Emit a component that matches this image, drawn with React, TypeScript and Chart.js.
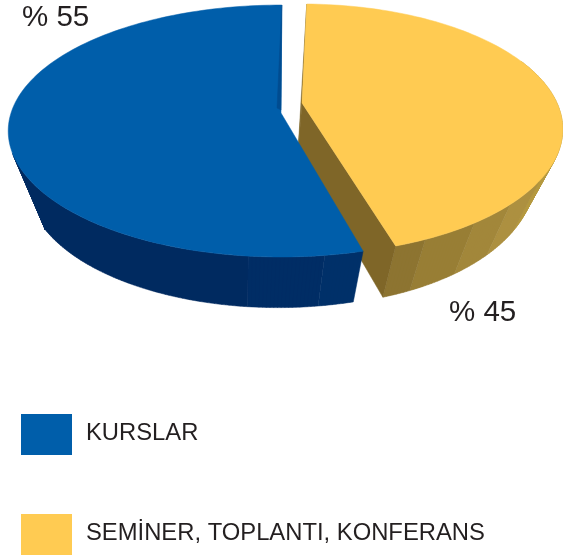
import React, { useEffect, useRef } from "react";
import { Chart, registerables } from "chart.js";

Chart.register(...registerables);

const categories = ["KURSLAR", "SEMİNER, TOPLANTI, KONFERANS"];
const shares = [55, 45];
const sliceColors = ["#005EAA", "#FFCB52"];

type Disk = { x: number; y: number; A: number; B: number; k: number };
type SliceView = {
  top: Disk;
  bottom: Disk;
  trimStart: number;
  trimEnd: number;
  wallStops: number[];
  wallColors: string[];
  bottomLimit: number;
  cutColor: string;
  label: { x: number; y: number };
};

const views: SliceView[] = [
  {
    top: { x: 281, y: 113, A: 270, B: 123.4, k: 0.143 },
    bottom: { x: 278, y: 167, A: 247.5, B: 120.5, k: 0.143 },
    trimStart: 1.8,
    trimEnd: -0.8,
    wallStops: [252, 186, 172, 164.8],
    wallColors: ["#002A60", "#002D65", "#003069"],
    bottomLimit: 241,
    cutColor: "#004C90",
    label: { x: 22, y: 26 },
  },
  {
    top: { x: 302, y: 103, A: 255, B: 119.7, k: 0.209 },
    bottom: { x: 298, y: 152, A: 231, B: 121.6, k: 0.209 },
    trimStart: 0.3,
    trimEnd: -0.1,
    wallStops: [68, 112, 125, 136, 146, 157, 162.9],
    wallColors: ["#BA9E48", "#B5983F", "#AD9040", "#A2873A", "#987E35", "#8D7431"],
    bottomLimit: 360,
    cutColor: "#7F6628",
    label: { x: 449, y: 321 },
  },
];

const project = (d: Disk, deg: number) => {
  const t = (deg * Math.PI) / 180;
  const u = Math.sin(t);
  const v = -Math.cos(t);
  const w = 1 - d.k * v;
  return { x: d.x + (d.A * u) / w, y: d.y + (d.B * v) / w };
};

type Pt = { x: number; y: number };

const traceMany = (ctx: CanvasRenderingContext2D, polys: Pt[][], fill: string) => {
  ctx.beginPath();
  polys.forEach((pts) => {
    pts.forEach((p, i) => (i ? ctx.lineTo(p.x, p.y) : ctx.moveTo(p.x, p.y)));
    ctx.closePath();
  });
  ctx.fillStyle = fill;
  ctx.fill();
};

const trace = (ctx: CanvasRenderingContext2D, pts: Pt[], fill: string) => {
  traceMany(ctx, [pts], fill);
  ctx.strokeStyle = fill;
  ctx.lineWidth = 0.5;
  ctx.stroke();
};

const arcPoints = (d: Disk, from: number, to: number) => {
  const n = Math.max(2, Math.ceil(Math.abs(to - from) / 1.5));
  const out: Pt[] = [];
  for (let i = 0; i <= n; i++) out.push(project(d, from + ((to - from) * i) / n));
  return out;
};

const drawSlice = (ctx: CanvasRenderingContext2D, index: number, start: number, end: number, color: string) => {
  const s = views[index];
  const a0 = start + s.trimStart;
  const a1 = end + s.trimEnd;

  // outer wall: flat shaded bands, each one path of thin quads so the silhouette stays straight
  s.wallColors.forEach((c, b) => {
    const from = s.wallStops[b];
    const to = s.wallStops[b + 1];
    const n = Math.max(1, Math.ceil(Math.abs(to - from) / 0.75));
    const quads: Pt[][] = [];
    for (let i = 0; i < n; i++) {
      const p = from + ((to - from) * i) / n;
      const q = from + ((to - from) * (i + 1)) / n;
      quads.push([
        project(s.top, p),
        project(s.top, q),
        project(s.bottom, Math.min(q, s.bottomLimit)),
        project(s.bottom, Math.min(p, s.bottomLimit)),
      ]);
    }
    traceMany(ctx, quads, c);
    ctx.strokeStyle = c;
    ctx.lineWidth = 0.5;
    ctx.stroke();
  });

  // cut faces
  if (index === 1) {
    const tipTop = { x: s.top.x, y: s.top.y };
    const tipBottom = { x: s.bottom.x, y: s.bottom.y };
    trace(ctx, [tipTop, project(s.top, a1), project(s.bottom, a1), tipBottom], s.cutColor);
    trace(ctx, [project(s.top, a0), tipTop, tipBottom], s.cutColor);
  }

  // top face
  trace(ctx, [{ x: s.top.x, y: s.top.y }, ...arcPoints(s.top, a0, a1)], color);

  // seam on the first slice
  if (index === 0) {
    trace(
      ctx,
      [project(s.top, a1), { x: s.top.x, y: s.top.y - 3 }, { x: s.top.x - 4, y: s.top.y - 5 }],
      s.cutColor
    );
  }
};

const pie3d = {
  id: "pie3d",
  beforeDatasetsDraw(chart: any) {
    const ctx = chart.ctx as CanvasRenderingContext2D;
    const meta = chart.getDatasetMeta(0);
    const colors = chart.data.datasets[0].backgroundColor as string[];
    const toDeg = (r: number) => (r * 180) / Math.PI + 90;
    ctx.save();
    [1, 0].forEach((i) => {
      const arc = meta.data[i] as any;
      drawSlice(ctx, i, toDeg(arc.startAngle), toDeg(arc.endAngle), colors[i]);
    });
    ctx.restore();
    return false;
  },
  afterDraw(chart: any) {
    const ctx = chart.ctx as CanvasRenderingContext2D;
    const data = chart.data.datasets[0].data as number[];
    const colors = chart.data.datasets[0].backgroundColor as string[];
    const labels = chart.data.labels as string[];
    ctx.save();
    ctx.fillStyle = "#231F20";
    ctx.textBaseline = "alphabetic";
    ctx.textAlign = "left";
    ctx.font = '29.5px "Liberation Sans"';
    data.forEach((v, i) => ctx.fillText(`% ${v}`, views[i].label.x, views[i].label.y));
    ctx.font = '23.8px "Liberation Sans"';
    ctx.textBaseline = "middle";
    labels.forEach((l, i) => {
      const y = 414 + i * 100;
      ctx.fillStyle = colors[i];
      ctx.fillRect(21, y, 51, 41);
      ctx.fillStyle = "#231F20";
      ctx.fillText(l, 86, y + 19);
    });
    ctx.restore();
  },
};

export default function App() {
  const ref = useRef<HTMLCanvasElement>(null);
  useEffect(() => {
    const chart = new Chart(ref.current as HTMLCanvasElement, {
      type: "pie",
      data: {
        labels: categories,
        datasets: [{ data: shares, backgroundColor: sliceColors, borderWidth: 0 }],
      },
      options: {
        responsive: false,
        animation: false,
        rotation: 163,
        events: [],
        plugins: { legend: { display: false }, tooltip: { enabled: false } },
      },
      plugins: [pie3d],
    } as any);
    return () => chart.destroy();
  }, []);
  return (
    <canvas
      ref={ref}
      width={563}
      height={555}
      style={{ position: "absolute", left: 0, top: 0, display: "block", background: "#fff" }}
    />
  );
}
